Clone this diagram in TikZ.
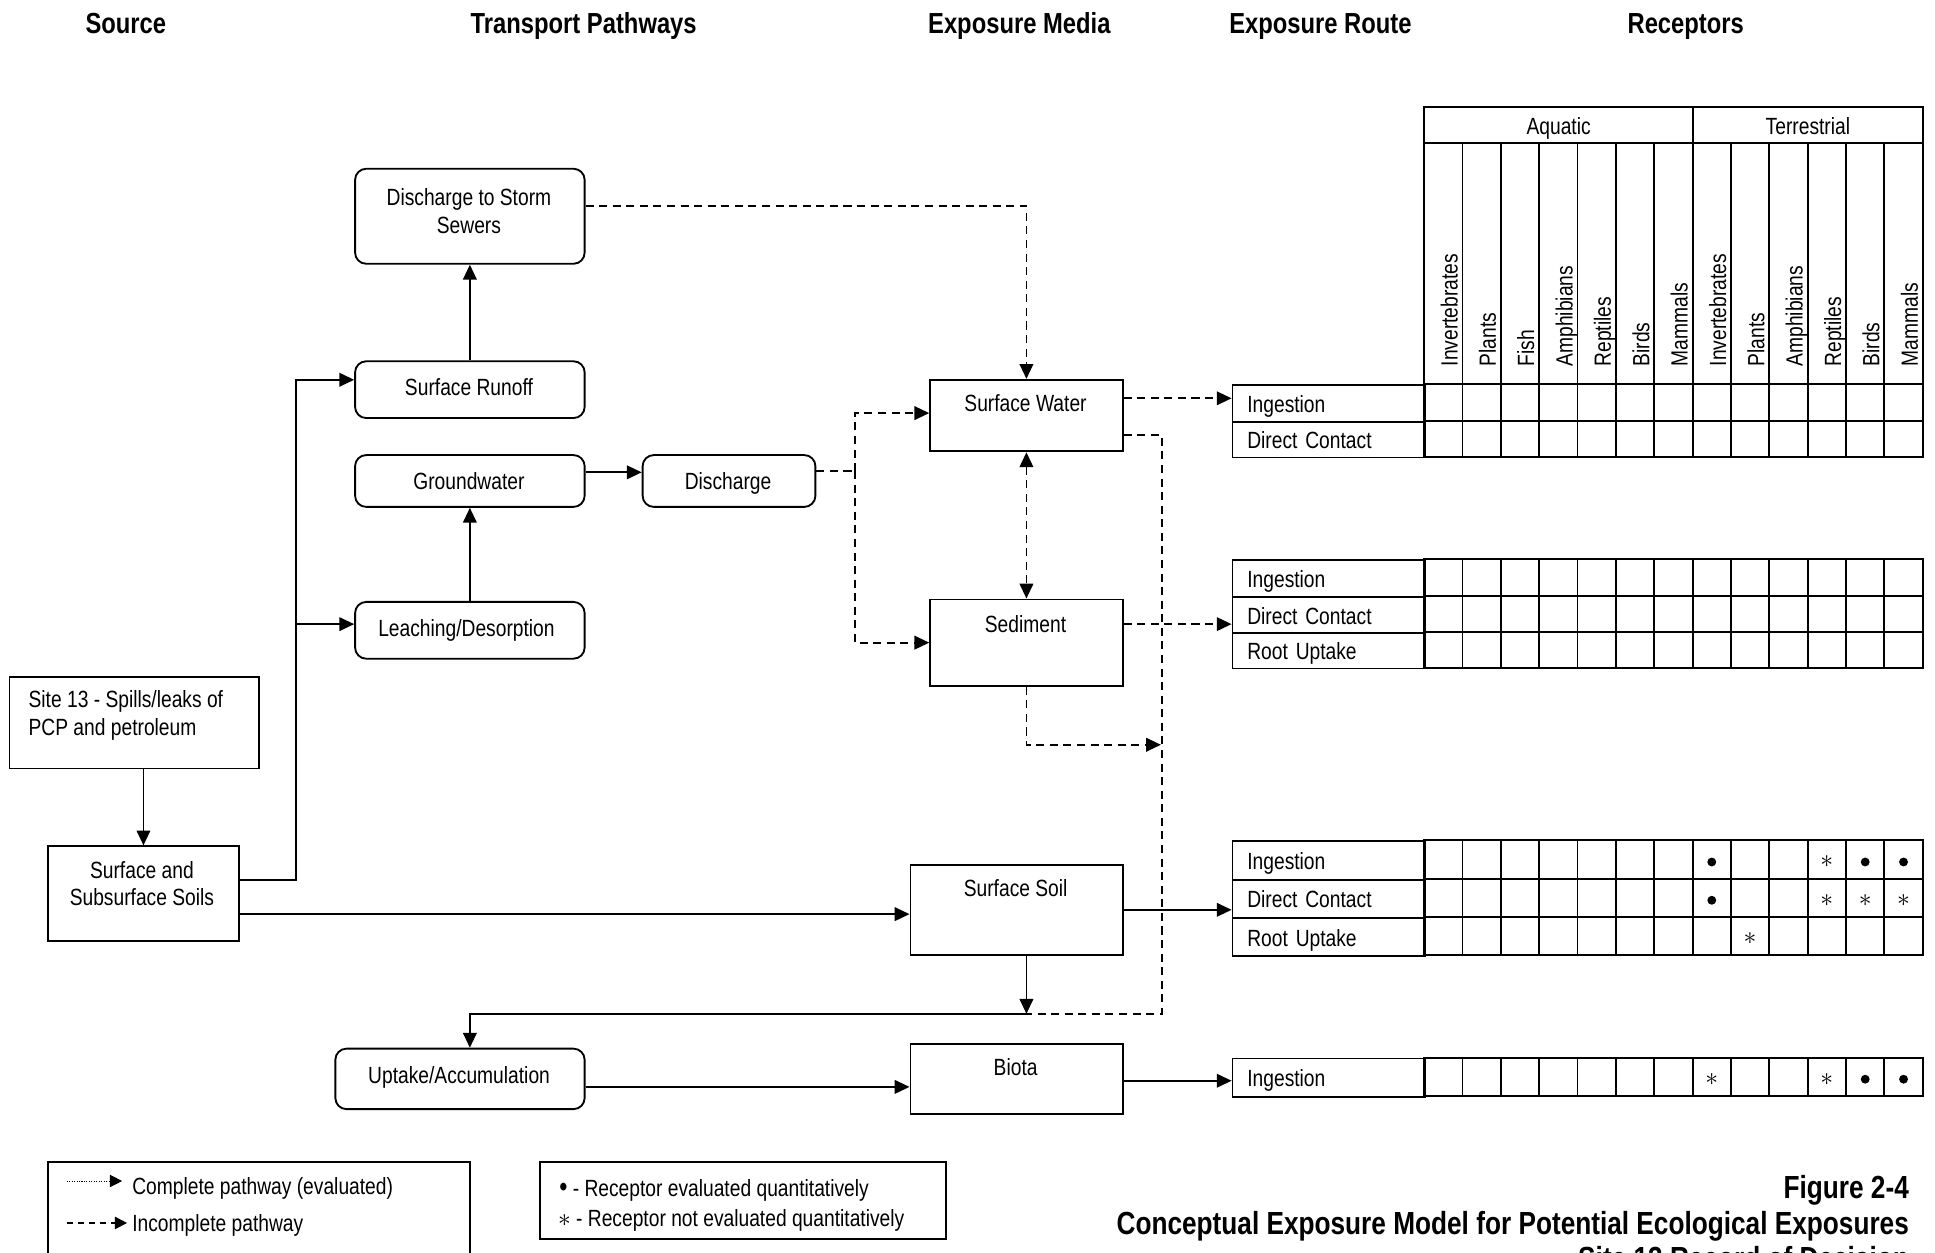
\documentclass[tikz,border=0pt]{standalone}
\usepackage{fontspec}
\setmainfont{Liberation Sans}[FakeStretch=0.82]
\usetikzlibrary{arrows.meta,calc}
\newcommand\cemrow[2]{\foreach \i in {0,...,12}{\draw[grid] ({1154+\i*31.08},#1) rectangle ++(31.08,#2);}}
\begin{document}
\begin{tikzpicture}[x=1pt,y=-1pt,
  every node/.style={font=\fontsize{19}{22.5}\selectfont, inner sep=0pt},
  one/.style={text height=13.6pt, text depth=0pt},
  box/.style={draw, line width=1.5pt, anchor=north west},
  rbox/.style={box, rounded corners=9pt},
  tx/.style={align=center},
  hd/.style={font=\fontsize{23.5}{27}\selectfont\bfseries, anchor=base},
  ttl/.style={font=\fontsize{25.9}{29}\selectfont\bfseries, anchor=base east},
  ln/.style={line width=1.5pt},
  conn/.style={ln, -{Triangle[length=12pt,width=11pt]}},
  dsh/.style={dash pattern=on 6.5pt off 4.5pt},
  rlab/.style={draw, line width=1.5pt, anchor=north west, minimum width=156pt, text width=132pt, inner xsep=12pt, align=left, text height=15pt, text depth=0pt},
  grid/.style={line width=1.5pt},
  rot/.style={rotate=90, anchor=base west},
  mk/.style={font=\fontsize{21}{21}\selectfont},
]
\useasboundingbox (0,0) rectangle (1568,1015);
\clip (0,0) rectangle (1568,1015);

% headers
\node[hd] (h1) at (102,27) {Source};
\node[hd] (h2) at (473,27) {Transport Pathways};
\node[hd] (h3) at (826,27) {Exposure Media};
\node[hd] (h4) at (1070,27) {Exposure Route};
\node[hd] (h5) at (1366,27) {Receptors};

% boxes
\node[rbox, minimum width=186pt, minimum height=77pt] (dss) at (287,136) {};
\node[tx] (dsst) at (380,171) {Discharge to Storm\\Sewers};
\node[rbox, minimum width=186pt, minimum height=46pt] (sr) at (287,292) {};
\node[one] (srt) at (380,314) {Surface Runoff};
\node[rbox, minimum width=186pt, minimum height=42pt] (gw) at (287,368) {};
\node[one] (gwt) at (380,390) {Groundwater};
\node[rbox, minimum width=140pt, minimum height=42pt] (dis) at (520,368) {};
\node[one] (dist) at (590,390) {Discharge};
\node[rbox, minimum width=186pt, minimum height=46pt] (lea) at (287,487) {};
\node[one] (leat) at (378,509) {Leaching/Desorption};
\node[box, minimum width=202pt, minimum height=74pt] (site) at (7,548) {};
\node[align=left, anchor=west] (sitet) at (23,580) {Site 13 - Spills/leaks of\\PCP and petroleum};
\node[box, minimum width=155pt, minimum height=77pt] (sss) at (38,685) {};
\node[tx] (ssst) at (115,716) {Surface and\\Subsurface Soils};
\node[rbox, minimum width=202pt, minimum height=49pt] (upt) at (271,849) {};
\node[one] (uptt) at (372,871) {Uptake/Accumulation};
\node[box, minimum width=156pt, minimum height=58pt] (swat) at (753,307) {};
\node[one] (swatt) at (831,327) {Surface Water};
\node[box, minimum width=156pt, minimum height=70pt] (sed) at (753,485) {};
\node[one] (sedt) at (831,506) {Sediment};
\node[box, minimum width=172pt, minimum height=73pt] (ssoil) at (737,700) {};
\node[one] (ssoilt) at (823,720) {Surface Soil};
\node[box, minimum width=172pt, minimum height=57pt] (biota) at (737,845) {};
\node[one] (biotat) at (823,865) {Biota};

% table 1 header
\draw[grid] (1154,87) rectangle (1558,116);
\draw[grid] (1371.6,87) -- (1371.6,116);
\node[one] (aq) at (1263,102) {Aquatic};
\node[one] (te) at (1465,102) {Terrestrial};
\cemrow{116}{195}
\foreach \i/\t in {1/Invertebrates,2/Plants,3/Fish,4/Amphibians,5/Reptiles,6/Birds,7/Mammals,8/Invertebrates,9/Plants,10/Amphibians,11/Reptiles,12/Birds,13/Mammals}{
  \node[rot] (c\i) at ({1154+\i*31.08-4},297) {\t};
}
% table 1 rows
\node[rlab, minimum height=30pt] (t1a) at (998,311) {Ingestion};
\node[rlab, minimum height=29pt] (t1b) at (998,341) {Direct Contact};
\cemrow{311}{30}
\cemrow{341}{29}
% table 2
\node[rlab, minimum height=30pt] (t2a) at (998,453) {Ingestion};
\node[rlab, minimum height=29pt] (t2b) at (998,483) {Direct Contact};
\node[rlab, minimum height=29pt] (t2c) at (998,512) {Root Uptake};
\cemrow{453}{30}
\cemrow{483}{29}
\cemrow{512}{29}
% table 3
\node[rlab, minimum height=31pt] (t3a) at (998,681) {Ingestion};
\node[rlab, minimum height=31pt] (t3b) at (998,712) {Direct Contact};
\node[rlab, minimum height=31pt] (t3c) at (998,743) {Root Uptake};
\cemrow{681}{31}
\cemrow{712}{31}
\cemrow{743}{31}
% table 4
\node[rlab, minimum height=31pt] (t4a) at (998,857) {Ingestion};
\cemrow{857}{31}

% marks
\foreach \c/\y in {8/698.5,12/698.5,13/698.5,8/729.5,12/874.5,13/874.5}{
  \fill ({1154+(\c-0.5)*31.08},\y) circle (3.6);
}
\foreach \c/\y [count=\k] in {11/698.5,11/729.5,12/729.5,13/729.5,9/760.5,8/874.5,11/874.5}{
  \node[mk] (ast\k) at ({1154+(\c-0.5)*31.08},\y) {$\ast$};
}

% connectors
\draw[conn] (site.south -| sss.north) -- (sss.north);
\coordinate (sssout) at ($(sss.east)+(0,-11.5)$);
\coordinate (srin) at ($(sr.west)+(0,-8)$);
\coordinate (leain) at ($(lea.west)+(0,-5)$);
\draw[conn] (sssout) -| ($(srin)+(-47,0)$) -- (srin);
\draw[conn] ($(leain)+(-47,0)$) -- (leain);
\draw[conn] (sr.north) -- (dss.south);
\draw[conn] (lea.north) -- (gw.south);
\draw[conn] ($(gw.east)+(0,-7)$) -- ($(dis.west)+(0,-7)$);
\draw[conn,dsh] ($(dss.east)+(0,-8.5)$) -| (swat.north);
\coordinate (disout) at ($(dis.east)+(0,-8)$);
\coordinate (disj) at ($(disout)+(31,0)$);
\draw[ln,dsh] (disout) -- (disj);
\draw[conn,dsh] (disj) |- ($(swat.west)+(0,-2)$);
\draw[conn,dsh] (disj) |- (sed.west);
\draw[ln,dsh,{Triangle[length=12pt,width=11pt]}-{Triangle[length=12pt,width=11pt]}] (swat.south) -- (sed.north);
\coordinate (swo1) at ($(swat.east)+(0,-14)$);
\draw[conn,dsh] (swo1) -- (swo1 -| t1a.west);
\coordinate (swo2) at ($(swat.east)+(0,16)$);
\coordinate (jn) at ($(ssoil.south)+(8,47)$);
\draw[ln,dsh] (swo2) -- ++(31,0) |- (jn);
\draw[conn,dsh] (sed.south) |- ($(sed.south)+(109,47)$);
\coordinate (sdo) at ($(sed.east)+(0,-15)$);
\draw[conn,dsh] (sdo) -- (sdo -| t2b.west);
\coordinate (ssso) at ($(sss.east)+(0,16.5)$);
\draw[conn] (ssso) -- (ssso -| ssoil.west);
\draw[conn] (ssoil.east) -- (ssoil.east -| t3b.west);
\draw[conn] (ssoil.south -| jn) -- (jn);
\draw[conn] (jn) -| ($(upt.north)+(8,0)$);
\coordinate (upo) at ($(upt.east)+(0,6.5)$);
\draw[conn] (upo) -- (upo -| biota.west);
\coordinate (bio) at ($(biota.east)+(0,1.5)$);
\draw[conn] (bio) -- (bio -| t4a.west);

% legend 1
\node[box, minimum width=342pt, minimum height=100pt] (leg1) at (38,941) {};
\coordinate (l1a) at ($(leg1.north west)+(16,16)$);
\coordinate (l1b) at ($(leg1.north west)+(61,16)$);
\draw[line width=0.8pt, dash pattern=on 0.9pt off 1.1pt, -{Triangle[length=10pt,width=10pt]}] (l1a) -- (l1b);
\coordinate (l2a) at ($(leg1.north west)+(16,50)$);
\coordinate (l2b) at ($(leg1.north west)+(65,50)$);
\draw[ln, dash pattern=on 5pt off 4pt, -{Triangle[length=10pt,width=10pt]}] (l2a) -- (l2b);
\node[one, anchor=west] (l1t) at (107,961) {Complete pathway (evaluated)};
\node[one, anchor=west] (l2t) at (107,991) {Incomplete pathway};

% legend 2
\node[box, minimum width=329pt, minimum height=62pt] (leg2) at (437,941) {};
\node[one, anchor=west] (m1t) at (453,963) {{\fontsize{23}{15}\selectfont•} - Receptor evaluated quantitatively};
\node[one, anchor=west] (m2t) at (452,987) {{\fontsize{21}{15}\selectfont$\ast$} - Receptor not evaluated quantitatively};

% title
\node[ttl] (f1) at (1547,971) {Figure 2-4};
\node[ttl] (f2) at (1547,1000) {Conceptual Exposure Model for Potential Ecological Exposures};
\node[ttl] (f3) at (1547,1029) {Site 13 Record of Decision};
\end{tikzpicture}
\end{document}
